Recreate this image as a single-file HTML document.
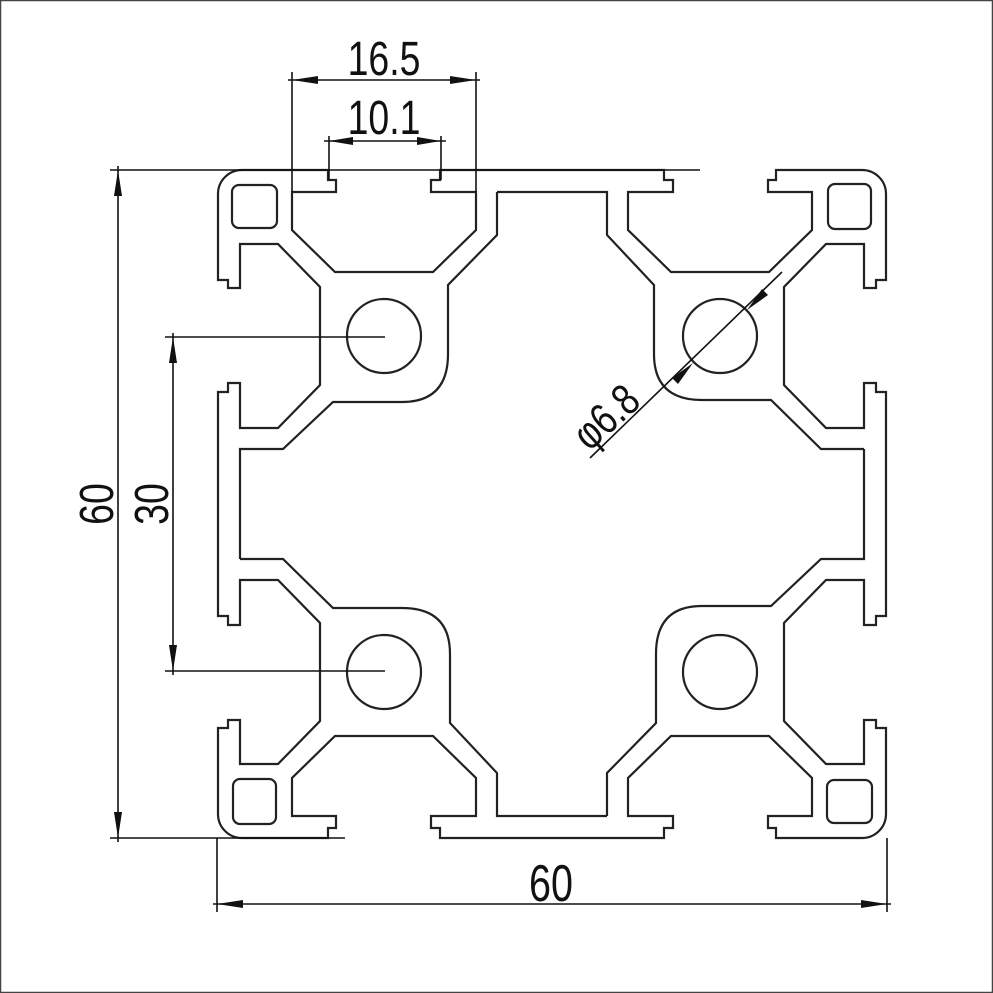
<!DOCTYPE html>
<html><head><meta charset="utf-8"><style>
html,body{margin:0;padding:0;background:#fff}
svg{display:block}
text{font-family:"Liberation Sans",sans-serif;fill:#111}
</style></head><body>
<svg width="993" height="993" viewBox="0 0 993 993" xmlns="http://www.w3.org/2000/svg">
<rect x="0.5" y="0.5" width="992" height="992" fill="#fff" stroke="#444" stroke-width="1.5"/>
<defs>
<path id="side" d="M -334 -310 A 24 24 0 0 1 -310 -334 L -224 -334 L -224 -324 L -216 -324 L -216 -312 L -260 -312 L -260 -274 L -217 -232 L -119 -232 L -76 -274 L -76 -312 L -121 -312 L -121 -324 L -112 -324 L -112 -334 L 112 -334 L 112 -324 L 121 -324 L 121 -312 L 76 -312 L 76 -274 L 119 -232 L 217 -232 L 260 -274 L 260 -312 L 216 -312 L 216 -324 L 224 -324 L 224 -334 L 310 -334"/>
<path id="cav" d="M -55 -312 L 55 -312 L 55 -269 L 102 -219 L 102 -150 Q 102 -104 150 -104 L 219 -104 L 269 -55 L 312 -55"/>
<g id="corner">
<rect x="-320" y="-319" width="45" height="43" rx="7"/>
<circle cx="-168" cy="-168" r="37"/>
</g>
</defs>
<g transform="translate(552,504)" fill="none" stroke="#222" stroke-width="2.2">
<use href="#side"/>
<use href="#side" transform="rotate(90)"/>
<use href="#side" transform="rotate(180)"/>
<use href="#side" transform="rotate(270)"/>
<use href="#cav"/>
<use href="#cav" transform="rotate(90)"/>
<use href="#cav" transform="rotate(180)"/>
<use href="#cav" transform="rotate(270)"/>
<use href="#corner"/>
<use href="#corner" transform="rotate(90)"/>
<use href="#corner" transform="rotate(180)"/>
<use href="#corner" transform="rotate(270)"/>
</g>
<g stroke="#111" stroke-width="1.6" fill="none">
<!-- 16.5 -->
<line x1="292" y1="72" x2="292" y2="192"/>
<line x1="476" y1="72" x2="476" y2="192"/>
<line x1="288" y1="80" x2="480" y2="80"/>
<!-- 10.1 -->
<line x1="329" y1="136" x2="329" y2="180"/>
<line x1="441" y1="136" x2="441" y2="180"/>
<line x1="324" y1="141" x2="446" y2="141"/>
<!-- left 60 -->
<line x1="110" y1="170" x2="700" y2="170"/>
<line x1="110" y1="838" x2="345" y2="838"/>
<line x1="118" y1="166" x2="118" y2="842"/>
<!-- 30 -->
<line x1="165" y1="337" x2="385" y2="337"/>
<line x1="165" y1="671" x2="385" y2="671"/>
<line x1="173" y1="333" x2="173" y2="675"/>
<!-- bottom 60 -->
<line x1="217" y1="838" x2="217" y2="912"/>
<line x1="887" y1="838" x2="887" y2="912"/>
<line x1="213" y1="904" x2="891" y2="904"/>
<!-- dia leader -->
<line x1="590" y1="458" x2="782" y2="272"/>
</g>
<g fill="#111">
<polygon points="292,80 318,76 318,84"/>
<polygon points="476,80 450,76 450,84"/>
<polygon points="329,141 353,137 353,145"/>
<polygon points="441,141 417,137 417,145"/>
<polygon points="118,170 114,196 122,196"/>
<polygon points="118,838 114,812 122,812"/>
<polygon points="173,337 169,363 177,363"/>
<polygon points="173,671 169,645 177,645"/>
<polygon points="217,904 243,900 243,908"/>
<polygon points="887,904 861,900 861,908"/>
<polygon points="747,310 762,289 768,295"/>
<polygon points="693,363 672,378 678,384"/>
</g>
<text x="0" y="0" font-size="48" text-anchor="middle" transform="translate(384,75) scale(0.78,1)">16.5</text>
<text x="0" y="0" font-size="48" text-anchor="middle" transform="translate(384,134) scale(0.78,1)">10.1</text>
<text x="0" y="0" font-size="48" text-anchor="middle" transform="translate(113,504) rotate(-90) scale(0.78,1)">60</text>
<text x="0" y="0" font-size="48" text-anchor="middle" transform="translate(168,504) rotate(-90) scale(0.78,1)">30</text>
<text x="0" y="0" font-size="52" text-anchor="middle" transform="translate(551,901) scale(0.76,1)">60</text>
<text x="0" y="0" font-size="44" text-anchor="middle" transform="translate(616,428) rotate(-42) scale(0.8,1)">φ6.8</text>
</svg>
</body></html>
